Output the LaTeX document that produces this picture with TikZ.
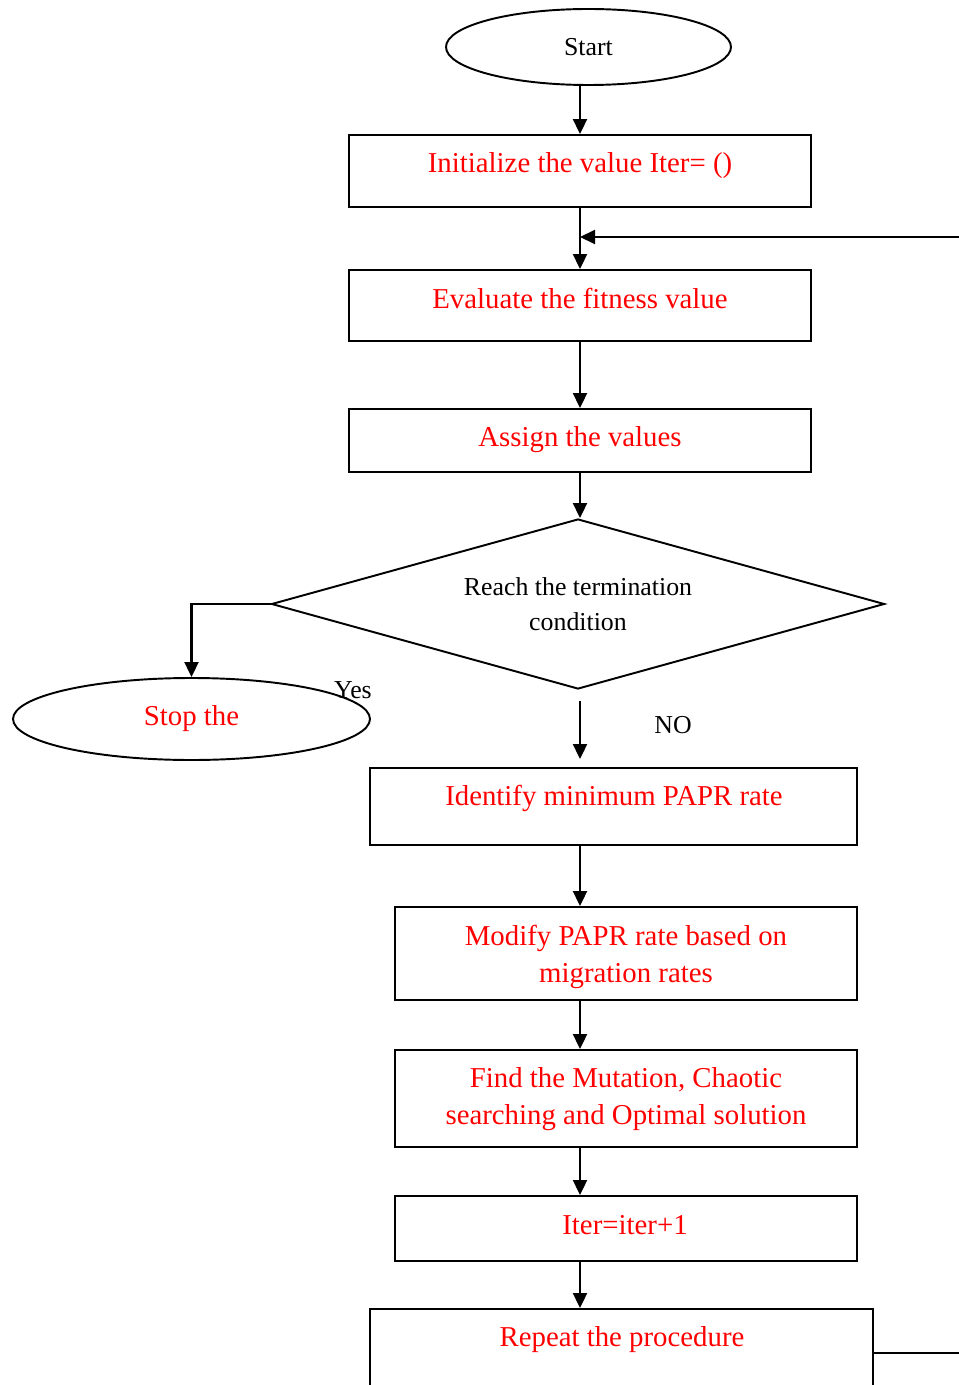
\documentclass[tikz,border=0pt]{standalone}
\usepackage{fontspec}
\setmainfont{Liberation Serif}
\usetikzlibrary{shapes.geometric,arrows.meta}
\newcommand{\pu}{0.02cm}
\begin{document}
\begin{tikzpicture}[x=\pu,y=-\pu,
	box/.style={draw,line width=1.1pt,inner sep=0pt},
	redtxt/.style={text=red,font=\fontsize{16.4}{21.5}\selectfont,align=center},
	blktxt/.style={font=\fontsize{14.7}{19.8}\selectfont,align=center},
	arr/.style={line width=1.2pt,arrows=-{Triangle[length=0.3cm,width=0.28cm]}}]
	\useasboundingbox (0,0) rectangle (959,1385);
	\coordinate (spine) at (580,0);
	\node[box,ellipse,blktxt,minimum width=285*\pu,minimum height=76*\pu] (start) at (588.5,47) {Start};
	\node[box,minimum width=462*\pu,minimum height=72*\pu] (init) at (580,171) {};
	\node[redtxt] (initt) at (580,166) {Initialize the value Iter= ()};
	\node[box,minimum width=462*\pu,minimum height=71*\pu] (eval) at (580,305.5) {};
	\node[redtxt] (evalt) at (580,298) {Evaluate the fitness value};
	\node[box,minimum width=462*\pu,minimum height=63*\pu] (assign) at (580,440.5) {};
	\node[redtxt] (assignt) at (580,440) {Assign the values};
	\node[box,diamond,blktxt,minimum width=613*\pu,minimum height=170*\pu,aspect=3.6] (cond) at (578,604) {Reach the termination\\condition};
	\node[box,ellipse,redtxt,minimum width=357*\pu,minimum height=82*\pu] (stop) at (191.5,719) {Stop the};
	\node[blktxt] (yes) at (353,690) {Yes};
	\node[blktxt] (no) at (673,725) {NO};
	\node[box,minimum width=487*\pu,minimum height=77*\pu] (ident) at (613.5,806.5) {};
	\node[redtxt] (identt) at (614,798) {Identify minimum PAPR rate};
	\node[box,minimum width=462*\pu,minimum height=93*\pu] (modify) at (626,953.5) {};
	\node[redtxt] (modifyt) at (626,957) {Modify PAPR rate based on\\migration rates};
	\node[box,minimum width=462*\pu,minimum height=97*\pu] (find) at (626,1098.5) {};
	\node[redtxt] (findt) at (626,1099) {Find the Mutation, Chaotic\\searching and Optimal solution};
	\node[box,minimum width=462*\pu,minimum height=65*\pu] (iter) at (626,1228.5) {};
	\node[redtxt] (itert) at (625,1225) {Iter=iter+1};
	\node[box,minimum width=503*\pu,minimum height=111*\pu] (repeat) at (621.5,1364.5) {};
	\node[redtxt] (repeatt) at (622,1340) {Repeat the procedure};

	\draw[arr] (init.north |- start.south) -- (init.north);
	\draw[arr] (init) -- (eval);
	\draw[arr] (eval) -- (assign);
	\draw[arr] (assign.south) -- (assign.south |- cond.north);
	\draw[arr] (cond.west) -| (stop.north);
	\draw[arr,shorten <=0.22cm,shorten >=0.16cm] (cond.south -| spine) -- (ident.north -| spine);
	\draw[arr] (ident.south -| spine) -- (modify.north -| spine);
	\draw[arr] (modify.south -| spine) -- (find.north -| spine);
	\draw[arr] (find.south -| spine) -- (iter.north -| spine);
	\draw[arr] (iter.south -| spine) -- (repeat.north -| spine);
	\coordinate (back) at (963,1353);
	\coordinate (loop) at (580,237);
	\draw[arr] (back -| repeat.east) -- (back) |- (loop);
\end{tikzpicture}
\end{document}
